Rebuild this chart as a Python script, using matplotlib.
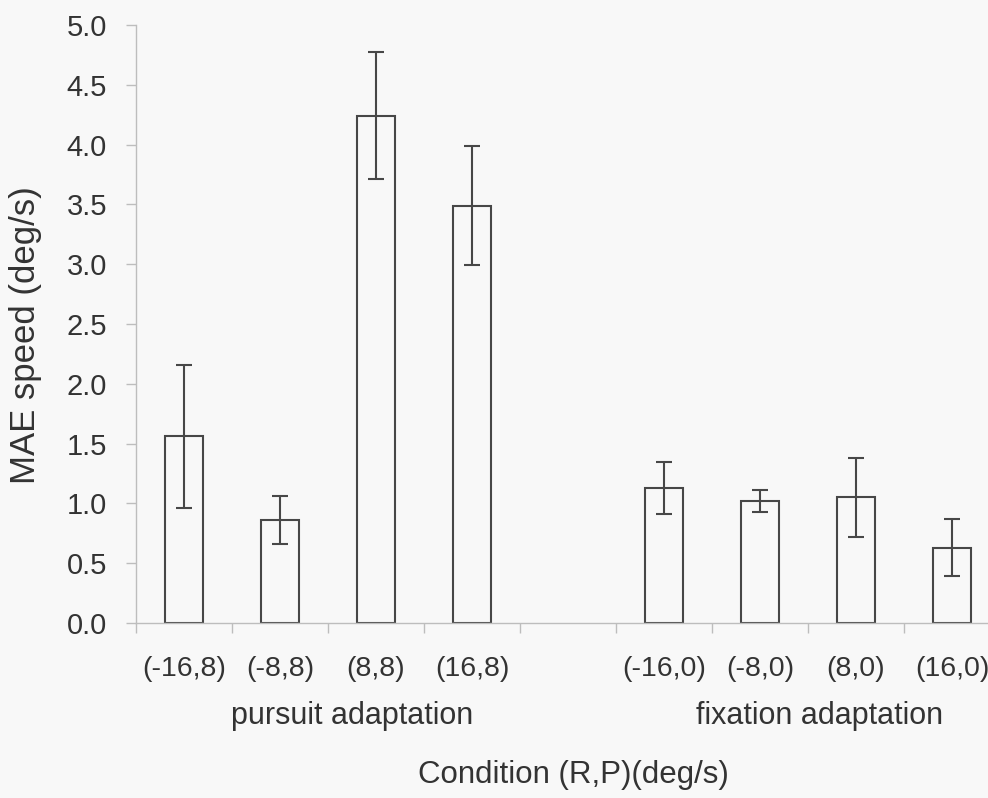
import matplotlib.pyplot as plt
import numpy as np

conditions = ['(-16,8)', '(-8,8)', '(8,8)', '(16,8)', '',
              '(-16,0)', '(-8,0)', '(8,0)', '(16,0)']
mae_speed = [1.56, 0.86, 4.24, 3.49, np.nan, 1.13, 1.02, 1.05, 0.63]
mae_err = [0.60, 0.20, 0.53, 0.50, np.nan, 0.22, 0.095, 0.33, 0.24]
groups = ['pursuit adaptation', 'fixation adaptation']
group_pos = [1.75, 6.62]

plt.rcParams['font.family'] = ['Liberation Sans', 'DejaVu Sans']
text_col = '#333333'
edge_col = '#474747'
axis_col = '#bdbdbd'
bg = '#f8f8f8'

fig = plt.figure(figsize=(9.88, 7.98), dpi=100, facecolor=bg)
ax = fig.add_axes([0.1377, 0.2193, 0.8745, 0.7494], facecolor=bg)

x = np.arange(len(conditions))
ax.bar(x, mae_speed, width=0.4, facecolor='none', edgecolor=edge_col, linewidth=1.5)
ax.errorbar(x, mae_speed, yerr=mae_err, fmt='none', ecolor=edge_col,
            elinewidth=1.5, capsize=6, capthick=1.5)

ax.set_xlim(-0.5, 8.5)
ax.set_ylim(0, 5.0)
ax.set_yticks(np.arange(0, 5.01, 0.5))
ax.set_yticklabels([f'{v:.1f}' for v in np.arange(0, 5.01, 0.5)])

# labels under bars, tick marks between slots
ax.set_xticks(x)
ax.set_xticklabels(conditions)
ax.set_xticks(np.arange(-0.5, 9, 1), minor=True)
ax.tick_params(axis='x', which='major', length=0, pad=24, labelsize=20.5, labelcolor=text_col)
ax.tick_params(axis='x', which='minor', length=7, width=1, color=axis_col, direction='out')
ax.tick_params(axis='y', length=7, width=1, color=axis_col, pad=14, labelsize=21,
               labelcolor=text_col)

for s in ['top', 'right']:
    ax.spines[s].set_visible(False)
for s in ['left', 'bottom']:
    ax.spines[s].set_color(axis_col)
    ax.spines[s].set_linewidth(1)

for g, p in zip(groups, group_pos):
    ax.text(p, -0.155, g, transform=ax.get_xaxis_transform(), ha='center', va='center',
            fontsize=22, color=text_col)

ax.text(4.06, -0.255, 'Condition (R,P)(deg/s)', transform=ax.get_xaxis_transform(),
        ha='center', va='center', fontsize=22.5, color=text_col)
fig.text(0.026, 0.58, 'MAE speed (deg/s)', rotation=90, ha='center', va='center',
         fontsize=25, color=text_col)

fig.savefig('out.png', dpi=100, facecolor=bg)
